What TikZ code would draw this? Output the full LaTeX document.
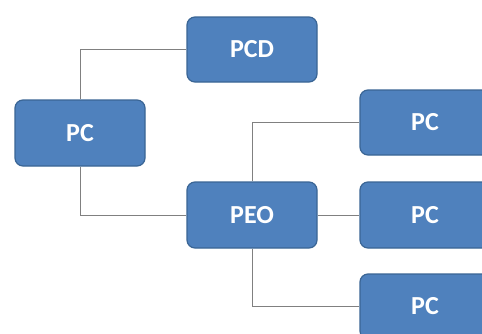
\documentclass[tikz,border=0pt]{standalone}
\usepackage{fontspec}
\setmainfont{Carlito}
\definecolor{boxfill}{HTML}{4F81BD}
\definecolor{boxline}{HTML}{3A6595}
\definecolor{conn}{HTML}{808080}
\begin{document}
\begin{tikzpicture}[x=1pt,y=-1pt,
  box/.style={draw=boxline, line width=1.2pt, fill=boxfill, rounded corners=8pt,
    minimum width=130pt, minimum height=65pt, inner sep=0pt,
    text=white, font=\fontsize{26}{30}\selectfont\bfseries},
  link/.style={draw=conn, line width=1pt}]
\clip (0,0) rectangle (482,333);
\fill[white] (0,0) rectangle (482,333);
\node[box] (pcd) at (252,49.5) {PCD};
\node[box, minimum height=66pt] (pcl) at (80,133) {PC};
\node[box, minimum height=66pt] (peo) at (252,215) {PEO};
\node[box] (pc1) at (425,122.5) {PC};
\node[box, minimum height=66pt] (pc2) at (425,215) {PC};
\node[box] (pc3) at (425,306.5) {PC};
\draw[link] (pcl.north) |- (pcd.west);
\draw[link] (pcl.south) |- (peo.west);
\draw[link] (peo.north) |- (pc1.west);
\draw[link] (peo.east) -- (pc2.west);
\draw[link] (peo.south) |- (pc3.west);
\end{tikzpicture}
\end{document}
